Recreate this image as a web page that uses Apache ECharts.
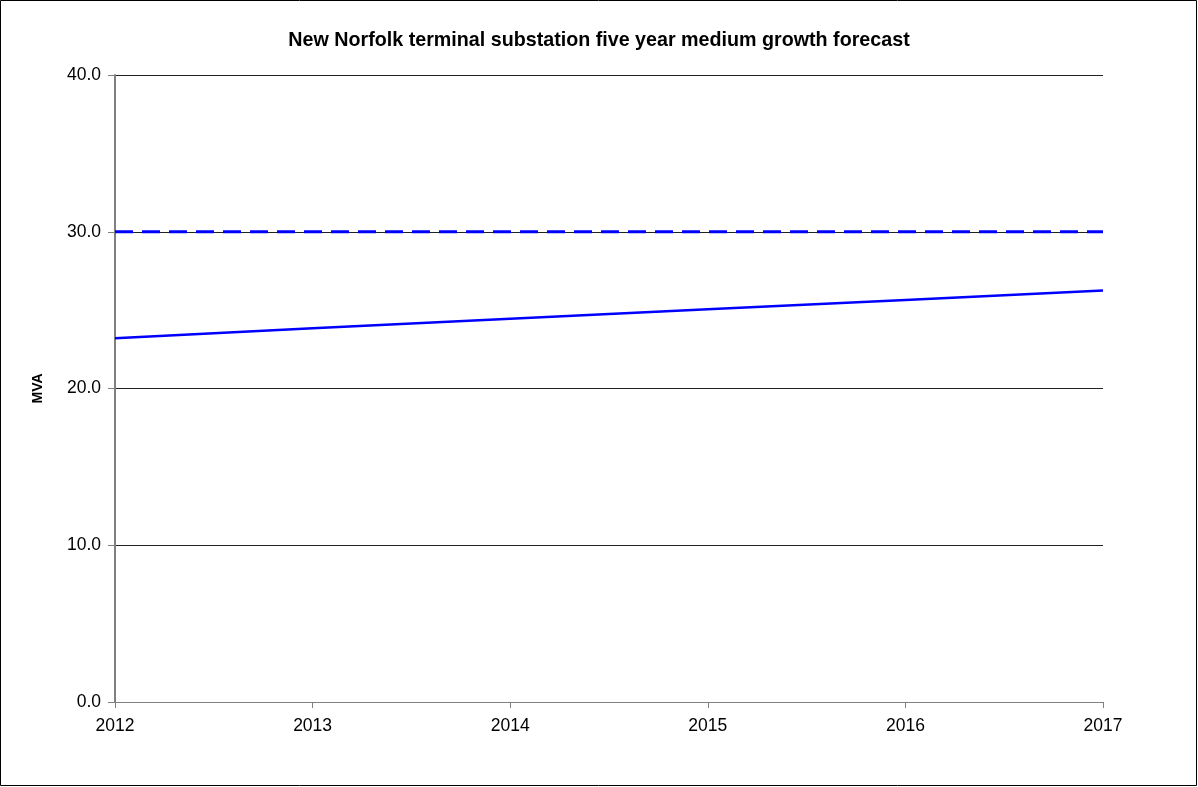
<!DOCTYPE html>
<html>
<head>
<meta charset="utf-8">
<script src="https://cdn.jsdelivr.net/npm/echarts@6/dist/echarts.min.js"></script>
<style>
html,body{margin:0;padding:0;background:#fff;}
#c{width:1198px;height:787px;}
</style>
</head>
<body>
<div id="c"></div>
<script>
const years = ['2012','2013','2014','2015','2016','2017'];
const forecast = [23.2, 23.85, 24.45, 25.05, 25.65, 26.25];
const capacity = [30.0, 30.0, 30.0, 30.0, 30.0, 30.0];
const yTicks = {min: 0, max: 40, interval: 10};

const chart = echarts.init(document.getElementById('c'));
chart.setOption({
  backgroundColor: '#fff',
  animation: false,
  title: {
    text: 'New Norfolk terminal substation five year medium growth forecast',
    left: 'center', top: 26,
    textStyle: {fontFamily: 'Liberation Sans, Arial', fontWeight: 'bold', fontSize: 19.7, color: '#000'}
  },
  graphic: [{
    type: 'rect', shape: {x: 0.5, y: 0.5, width: 1196, height: 785},
    style: {fill: 'none', stroke: '#000', lineWidth: 1}, silent: true
  }],
  grid: {left: 115, right: 95, top: 75, bottom: 85},
  xAxis: {
    type: 'category', data: years, boundaryGap: false,
    axisLine: {lineStyle: {color: '#808080', width: 1}},
    axisTick: {show: true, length: 6, lineStyle: {color: '#808080'}},
    axisLabel: {color: '#000', fontSize: 17.5, fontFamily: 'Liberation Sans, Arial', margin: 15}
  },
  yAxis: {
    type: 'value', min: yTicks.min, max: yTicks.max, interval: yTicks.interval,
    name: 'MVA', nameLocation: 'middle', nameGap: 70, nameRotate: 90,
    nameTextStyle: {fontFamily: 'Liberation Sans, Arial', fontWeight: 'bold', fontSize: 14, color: '#000'},
    axisLine: {show: true, lineStyle: {color: '#808080', width: 2}},
    axisTick: {show: true, length: 7, lineStyle: {color: '#808080'}},
    axisLabel: {color: '#000', fontSize: 17.5, fontFamily: 'Liberation Sans, Arial', margin: 14,
      formatter: v => v.toFixed(1)},
    splitLine: {show: true, lineStyle: {color: '#222', width: 1}}
  },
  series: [
    {
      name: 'Forecast', type: 'line', data: forecast, symbol: 'none',
      lineStyle: {color: '#0000ff', width: 2.5}, z: 3
    },
    {
      name: 'Firm capacity', type: 'line', data: capacity, symbol: 'none',
      lineStyle: {color: '#0000ff', width: 3, type: [18, 9]}, z: 4
    }
  ]
});
</script>
</body>
</html>
